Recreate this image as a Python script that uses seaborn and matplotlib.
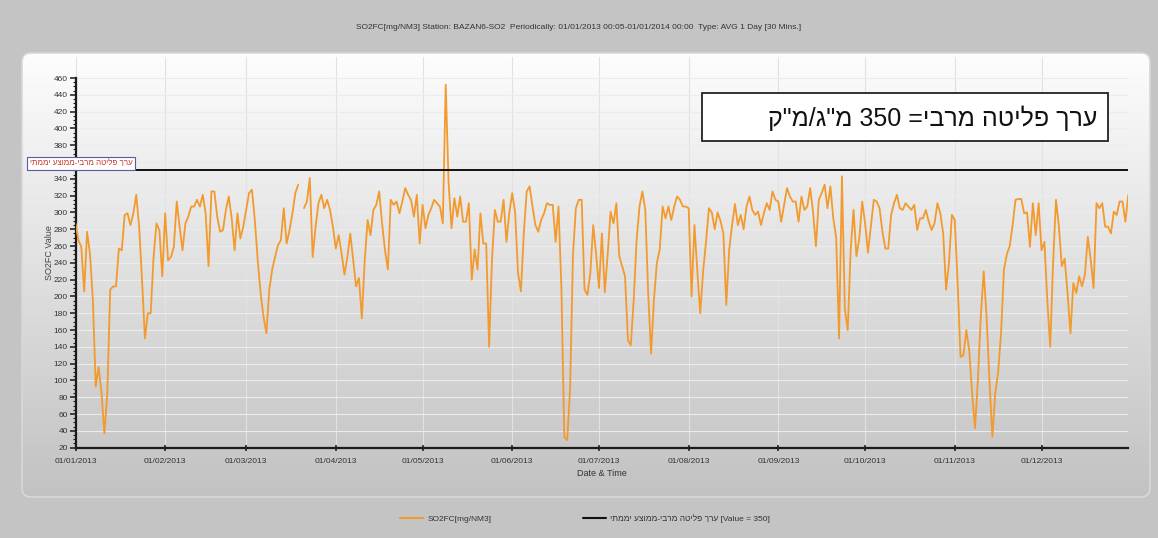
import re
import numpy as np
import pandas as pd
import matplotlib
matplotlib.use("Agg")
import matplotlib.pyplot as plt
import matplotlib.dates as mdates
from matplotlib.patches import FancyBboxPatch, Rectangle
from matplotlib.lines import Line2D
from matplotlib.ticker import FixedLocator
import seaborn as sns

# Daily SO2 averages [mg/NM3], one list per month (nan = no data that day)
jan = [287, 267, 259, 206, 277, 251, 196, 93, 116, 85, 37, 85, 208, 212, 212, 257,
       255, 297, 299, 285, 299, 321, 283, 220, 150, 180, 180, 247, 287, 279, 224]
feb = [299, 243, 247, 259, 313, 283, 255, 287, 295, 307, 307, 315, 307, 321, 299, 236,
       325, 325, 295, 277, 279, 303, 319, 293, 255, 299, 269, 283]
mar = [303, 323, 327, 291, 243, 204, 176, 156, 208, 232, 247, 261, 267, 305, 263, 279,
       299, 323, 333, np.nan, 305, 313, 341, 247, 283, 311, 321, 305, 315, 303, 283]
apr = [257, 273, 251, 226, 247, 275, 243, 212, 222, 174, 243, 291, 273, 303, 309, 325,
       287, 255, 232, 315, 309, 313, 299, 313, 329, 321, 315, 295, 321, 263]
may = [309, 281, 297, 305, 315, 311, 307, 287, 452, 335, 281, 317, 295, 319, 289, 289,
       311, 220, 256, 232, 299, 263, 263, 140, 244, 303, 289, 289, 315, 265, 300]
jun = [323, 300, 228, 206, 275, 325, 331, 307, 285, 277, 291, 299, 311, 309, 309, 265,
       307, 210, 33, 29, 90, 250, 305, 315, 315, 208, 202, 228, 285, 250]
jul = [210, 275, 205, 250, 301, 287, 311, 248, 236, 224, 148, 142, 196, 267, 307, 325,
       303, 204, 132, 196, 240, 256, 307, 293, 307, 291, 307, 319, 315, 307, 307]
aug = [305, 200, 285, 230, 180, 230, 265, 305, 300, 280, 300, 290, 275, 190, 255, 285,
       310, 285, 297, 280, 307, 319, 303, 297, 301, 285, 299, 311, 303, 325, 315]
sep = [313, 289, 309, 329, 319, 313, 313, 289, 319, 303, 307, 329, 301, 260, 315, 323,
       333, 305, 331, 293, 270, 150, 343, 185, 160, 255, 303, 248, 269, 313]
oct_ = [287, 252, 283, 315, 313, 305, 277, 257, 257, 297, 311, 321, 305, 303, 311, 307,
        303, 309, 279, 293, 293, 303, 289, 279, 287, 311, 299, 275, 208, 240, 297]
nov = [291, 215, 128, 130, 160, 136, 85, 43, 101, 176, 230, 176, 100, 33, 85, 110,
       156, 232, 250, 260, 285, 315, 316, 316, 299, 300, 259, 311, 273, 311]
dec = [255, 265, 195, 140, 240, 315, 283, 236, 245, 204, 156, 216, 204, 224, 212, 226,
       271, 244, 210, 311, 305, 311, 283, 283, 275, 301, 297, 313, 313, 289, 321]

START_DATE = "2013-01-01"
LIMIT_VALUE = 350
Y_TICKS = list(range(20, 461, 20))
Y_MINOR = list(range(20, 461, 5))

TITLE = ("SO2FC[mg/NM3] Station: BAZAN6-SO2  Periodically: 01/01/2013 00:05-01/01/2014 00:00"
         "  Type: AVG 1 Day [30 Mins.]")
SERIES_LABEL = "SO2FC[mg/NM3]"
LIMIT_NAME = "ערך פליטה מרבי-ממוצע יממתי"
BOX_TEXT = 'ערך פליטה מרבי= 350 מ"ג/מ"ק'
Y_LABEL = "SO2FC Value"
X_LABEL = "Date & Time"


def rtl(s):
    """Visual (left-to-right glyph) order for a Hebrew string; digit runs keep their order."""
    r = s[::-1]
    return re.sub(r"\d+", lambda m: m.group(0)[::-1], r)


values = jan + feb + mar + apr + may + jun + jul + aug + sep + oct_ + nov + dec
dates = pd.date_range(START_DATE, periods=len(values), freq="D")
df = pd.DataFrame({"date": dates, "value": values})
# separate segments so missing days leave a gap in the line
df["segment"] = df["value"].isna().cumsum()
df = df.dropna(subset=["value"])

sns.set_theme(style="white")
plt.rcParams["font.family"] = ["Liberation Sans", "DejaVu Sans"]

W, H = 1158, 538
fig = plt.figure(figsize=(W / 100, H / 100), dpi=100)
fig.patch.set_facecolor("#c4c4c4")


def fx(px):
    return px / W


def fy(py):
    return 1 - py / H


# background panel (pixel coordinates) with a vertical white-to-grey gradient
bg = fig.add_axes([0, 0, 1, 1])
bg.axis("off")
px0, py0, px1, py1 = 22, 53, 1150, 497
panel = FancyBboxPatch((px0, py0), px1 - px0, py1 - py0,
                       boxstyle="round,pad=0,rounding_size=9",
                       facecolor="none", edgecolor="#d8d8d8", lw=1.2, zorder=2)
bg.add_patch(panel)
shade = np.linspace(253, 194, 256) / 255.0
grad = np.dstack([shade, shade, shade]).reshape(256, 1, 3)
im = bg.imshow(grad, extent=[px0, px1, py1, py0], aspect="auto", zorder=1,
               interpolation="bilinear")
im.set_clip_path(panel)
bg.set_xlim(0, W)
bg.set_ylim(H, 0)

# main plot area
left, right = 75.5, 1128.3
top, bottom = 57, 447.7
ax = fig.add_axes([fx(left), fy(bottom), fx(right) - fx(left), fy(top) - fy(bottom)])
ax.set_facecolor("none")

sns.lineplot(data=df, x="date", y="value", units="segment", estimator=None,
             color="#f39a2e", lw=1.3, ax=ax, legend=False, zorder=3)
ax.axhline(LIMIT_VALUE, color="#111111", lw=1.4, zorder=4)

ax.set_xlim(dates[0], dates[-1])
ax.set_ylim(20, 485)
ax.set_yticks(Y_TICKS)
# the 360 label sits under the limit-line tag, so it is left blank
ax.set_yticklabels(["" if t == 360 else str(t) for t in Y_TICKS])
ax.yaxis.set_minor_locator(FixedLocator(Y_MINOR))
ax.xaxis.set_major_locator(mdates.MonthLocator())
ax.xaxis.set_major_formatter(mdates.DateFormatter("%d/%m/%Y"))

ax.grid(True, axis="y", color="#ececec", lw=0.8, zorder=0)
ax.grid(True, axis="x", color="#e2e2e2", lw=0.8, zorder=0)
for s in ("top", "right"):
    ax.spines[s].set_visible(False)
for s in ("left", "bottom"):
    ax.spines[s].set_color("#1a1a1a")
    ax.spines[s].set_linewidth(1.6)
ax.spines["left"].set_bounds(20, 460)

ax.tick_params(axis="y", which="major", direction="out", length=4, width=1.1,
               color="#1a1a1a", labelsize=6, labelcolor="#333333", pad=1.5, left=True)
ax.tick_params(axis="y", which="minor", direction="out", length=2.2, width=0.8,
               color="#1a1a1a", left=True)
ax.tick_params(axis="x", which="major", direction="inout", length=5, width=1.1,
               color="#1a1a1a", labelsize=6, labelcolor="#333333", pad=5, bottom=True)

ax.set_xlabel(X_LABEL, fontsize=6.5, color="#333333", labelpad=3)
ax.set_ylabel(Y_LABEL, fontsize=6.5, color="#444444", labelpad=0)

# annotation box in the upper right, drawn above the plot area
box = Rectangle((fx(702), fy(141)), fx(1108) - fx(702), fy(93) - fy(141),
                transform=fig.transFigure, facecolor="white", edgecolor="#222222",
                lw=1.3, zorder=5)
fig.patches.append(box)
fig.text(fx(1097), fy(118), rtl(BOX_TEXT), ha="right", va="center", fontsize=18,
         color="#111111", zorder=6)

# title
fig.text(0.5, fy(28), TITLE, ha="center", va="center", fontsize=6, color="#333333")

# tag of the limit line, sitting on the y axis
fig.text(fx(81), fy(163.5), rtl(LIMIT_NAME), ha="center", va="center", fontsize=5.8,
         color="#c0392b", zorder=6,
         bbox=dict(boxstyle="square,pad=0.3", facecolor="white", edgecolor="#5a5aa0", lw=0.8))

# legend below the panel
handles = [Line2D([], [], color="#f39a2e", lw=1.5),
           Line2D([], [], color="#111111", lw=1.5)]
labels = [SERIES_LABEL, rtl(LIMIT_NAME) + " [Value = " + str(LIMIT_VALUE) + "]"]
fig.legend(handles, labels, loc="center", bbox_to_anchor=(fx(585), fy(519)), ncol=2,
           frameon=False, fontsize=6, handlelength=2.8, handletextpad=0.5,
           columnspacing=11, labelcolor="#333333")

fig.savefig("out.png", dpi=100, facecolor=fig.get_facecolor())
